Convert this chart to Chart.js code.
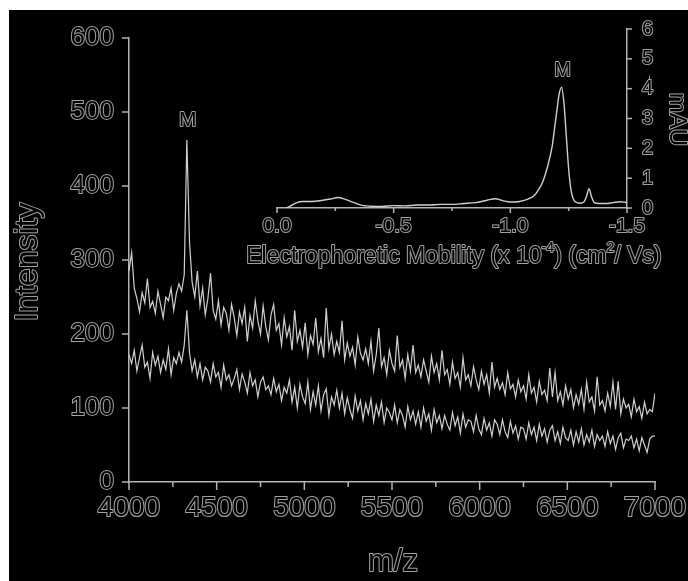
<!doctype html>
<html lang="en">
  <head>
    <meta charset="UTF-8" />
    <title>MALDI spectrum with CE inset</title>
    <script src="https://cdn.jsdelivr.net/npm/chart.js"></script>
    <style>
      body {
        margin: 0;
        background: #fff;
      }
      #wrap {
        position: absolute;
        left: 9px;
        top: 10px;
        width: 679px;
        height: 571px;
        background: #000;
      }
      #mainChart {
        position: absolute;
        left: 0;
        top: 0;
      }
      #insetChart {
        position: absolute;
        left: 231px;
        top: 0;
      }
    </style>
  </head>
  <body>
    <div id="wrap">
      <canvas id="mainChart" width="679" height="571"></canvas>
      <canvas id="insetChart" width="448" height="272"></canvas>
    </div>

    <script>
      // Mass spectrum, sampled every 15 m/z from 4000 to 7000
      const MZ_START = 4000;
      const MZ_STEP = 15;

      const upperTrace = [
        285, 310, 262, 248, 230, 256, 242, 275, 236, 244,
        228, 258, 240, 222, 250, 245, 262, 232, 255, 268,
        258, 280, 462, 325, 270, 250, 285, 238, 262, 226,
        248, 282, 232, 220, 245, 212, 236, 228, 205, 240,
        222, 198, 230, 214, 236, 190, 225, 208, 245, 218,
        200, 238, 210, 192, 226, 240, 205, 214, 185, 222,
        196, 210, 178, 232, 190, 205, 182, 215, 172, 198,
        186, 222, 176, 194, 168, 235, 180, 200, 172, 190,
        175, 218, 165, 188, 170, 182, 158, 196, 174, 165,
        180, 160, 190, 150, 172, 208, 156, 168, 145, 178,
        160, 150, 198, 155, 165, 140, 172, 150, 185, 148,
        158, 142, 165, 150, 135, 170, 148, 160, 138, 178,
        145, 152, 132, 162, 140, 148, 128, 168, 138, 145,
        130, 156, 138, 125, 150, 132, 145, 120, 162, 128,
        140, 125, 134, 118, 148, 126, 132, 115, 138, 122,
        130, 112, 145, 120, 128, 108, 136, 118, 124, 110,
        154, 115, 148, 110, 122, 104, 130, 112, 125, 100,
        118, 105, 125, 98, 135, 108, 115, 96, 142, 104,
        110, 96, 120, 102, 135, 98, 136, 92, 112, 100,
        105, 88, 112, 95, 102, 86, 108, 92, 98, 95,
        120,
      ];

      const lowerTrace = [
        172, 160, 178, 150, 168, 185, 155, 162, 140, 175,
        158, 170, 148, 165, 152, 180, 145, 168, 160, 175,
        162, 185, 232, 175, 150, 165, 142, 160, 138, 155,
        150, 135, 160, 142, 148, 128, 158, 138, 145, 130,
        140, 152, 125, 146, 135, 120, 148, 130, 138, 115,
        135, 142, 125, 130, 118, 140, 122, 132, 110, 128,
        120, 138, 108, 128, 100, 132, 115, 106, 135, 98,
        122, 104, 130, 96, 118, 126, 90, 115, 104, 124,
        100, 120, 92, 114, 98, 86, 116, 96, 110, 84,
        106, 92, 112, 82, 104, 90, 108, 80, 100, 94,
        84, 104, 80, 98, 90, 74, 102, 84, 96, 78,
        95, 74, 100, 82, 92, 70, 98, 80, 90, 72,
        90, 78, 70, 94, 76, 88, 66, 92, 74, 84,
        82, 68, 90, 72, 64, 86, 70, 80, 62, 84,
        78, 64, 84, 68, 60, 82, 66, 76, 58, 74,
        72, 58, 80, 64, 74, 56, 78, 62, 72, 54,
        70, 76, 56, 68, 52, 74, 60, 56, 70, 50,
        68, 54, 72, 50, 64, 54, 70, 48, 64, 56,
        62, 48, 68, 52, 62, 44, 60, 66, 46, 58,
        56, 62, 46, 58, 42, 60, 50, 40, 58, 62,
        62,
      ];

      const mzMinorTicks = [4250, 4750, 5250, 5750, 6250, 6750];
      const peakMz = 4330;
      const peakIntensity = 462;

      // Electropherogram inset
      const mobility = [
        -0.04, -0.06, -0.085, -0.11, -0.15, -0.19, -0.23, -0.26, -0.29, -0.33,
        -0.37, -0.4, -0.45, -0.5, -0.55, -0.6, -0.65, -0.7, -0.75, -0.8,
        -0.85, -0.9, -0.935, -0.97, -1.0, -1.04, -1.07, -1.1, -1.12, -1.14,
        -1.16, -1.18, -1.19, -1.2, -1.21, -1.22, -1.23, -1.24, -1.25, -1.26,
        -1.27, -1.28, -1.3, -1.315, -1.327, -1.337, -1.348, -1.36, -1.38,
        -1.41, -1.44, -1.47, -1.5,
      ];
      const absorbance = [
        0, 0.08, 0.18, 0.22, 0.22, 0.25, 0.3, 0.35, 0.3, 0.18,
        0.08, 0.06, 0.05, 0.08, 0.07, 0.1, 0.1, 0.12, 0.12, 0.15,
        0.18, 0.26, 0.31, 0.24, 0.2, 0.22, 0.28, 0.4, 0.6, 0.9,
        1.4, 2.1, 2.7, 3.3, 3.85, 4.05, 3.5, 2.4, 1.3, 0.6,
        0.3, 0.2, 0.16, 0.2, 0.4, 0.65, 0.38, 0.18, 0.15,
        0.15, 0.18, 0.21, 0.19,
      ];
      const mobilityMinorTicks = [-0.25, -0.75, -1.25];
      const peakMobility = -1.22;
      const peakAbsorbance = 4.05;

      const FONT = "'Liberation Sans', Arial, sans-serif";
      const TEXT_EDGE = "#a0a0a0";
      const AXIS = "#b4b4b4";
      const TRACE = "#d0d0d0";

      const mz = upperTrace.map((_, i) => MZ_START + i * MZ_STEP);

      // outlined text, like the reference figure
      function outlineText(ctx, text, x, y, size, align) {
        ctx.font = size + "px " + FONT;
        ctx.textAlign = align || "center";
        ctx.textBaseline = "middle";
        ctx.lineJoin = "round";
        ctx.lineWidth = 2;
        ctx.strokeStyle = TEXT_EDGE;
        ctx.strokeText(text, x, y);
        ctx.fillStyle = "#000";
        ctx.fillText(text, x, y);
      }

      // text with superscript pieces, centred on x
      function outlineRich(ctx, parts, x, y, size) {
        let total = 0;
        parts.forEach((p) => {
          ctx.font = (p.sup ? size * 0.62 : size) + "px " + FONT;
          total += ctx.measureText(p.t).width;
        });
        let cx = x - total / 2;
        parts.forEach((p) => {
          const s = p.sup ? size * 0.62 : size;
          const dy = p.sup ? -size * 0.38 : 0;
          outlineText(ctx, p.t, cx, y + dy, s, "left");
          ctx.font = s + "px " + FONT;
          cx += ctx.measureText(p.t).width;
        });
      }

      // tick marks + titles, kept out of the options resolver
      function decorations(marks, draw) {
        return {
          id: "decorations",
          afterDraw(chart) {
            const ctx = chart.ctx;
            ctx.save();
            ctx.strokeStyle = AXIS;
            ctx.lineWidth = 1.5;
            marks.forEach((m) => {
              const sc = chart.scales[m.axis];
              const values = m.values || sc.ticks.map((t) => t.value);
              values.forEach((v) => {
                const p = sc.getPixelForValue(v);
                ctx.beginPath();
                if (m.axis === "x") {
                  ctx.moveTo(p, sc.top);
                  ctx.lineTo(p, sc.top + m.len);
                } else if (sc.position === "left") {
                  ctx.moveTo(sc.right, p);
                  ctx.lineTo(sc.right - m.len, p);
                } else {
                  ctx.moveTo(sc.left, p);
                  ctx.lineTo(sc.left + m.len, p);
                }
                ctx.stroke();
              });
            });
            draw(chart, ctx);
            ctx.restore();
          },
        };
      }

      function fixSize(prop, size) {
        return (s) => {
          s[prop] = size;
          s.paddingLeft = 0;
          s.paddingRight = 0;
          s.paddingTop = 0;
          s.paddingBottom = 0;
        };
      }

      function tickStyle(size, extra) {
        return Object.assign(
          {
            color: "#000",
            textStrokeColor: TEXT_EDGE,
            textStrokeWidth: 2,
            maxRotation: 0,
            font: { family: FONT, size: size },
          },
          extra
        );
      }

      const axisBorder = { display: true, color: AXIS, width: 1.5 };
      const noGrid = { display: true, drawOnChartArea: false, drawTicks: false };

      // main spectrum
      new Chart(document.getElementById("mainChart"), {
        type: "line",
        data: {
          datasets: [
            {
              data: mz.map((x, i) => ({ x: x, y: lowerTrace[i] })),
              borderColor: TRACE,
              borderWidth: 1.2,
              pointRadius: 0,
              tension: 0,
            },
            {
              data: mz.map((x, i) => ({ x: x, y: upperTrace[i] })),
              borderColor: TRACE,
              borderWidth: 1.2,
              pointRadius: 0,
              tension: 0,
            },
          ],
        },
        options: {
          responsive: false,
          animation: false,
          layout: { padding: { left: 0, top: 28, right: 33, bottom: 0 } },
          plugins: {
            legend: { display: false },
            tooltip: { enabled: false },
          },
          scales: {
            x: {
              type: "linear",
              min: 4000,
              max: 7000,
              afterFit: fixSize("height", 99),
              border: axisBorder,
              grid: noGrid,
              ticks: tickStyle(28, {
                stepSize: 500,
                padding: 9,
                callback: (v) => String(v),
              }),
            },
            y: {
              min: 0,
              max: 600,
              afterFit: fixSize("width", 120),
              border: axisBorder,
              grid: noGrid,
              ticks: tickStyle(26, {
                stepSize: 100,
                padding: 15,
                callback: (v) => String(v),
              }),
            },
          },
        },
        plugins: [
          decorations(
            [
              { axis: "x", len: 8 },
              { axis: "x", len: 5, values: mzMinorTicks },
              { axis: "y", len: 7 },
            ],
            (chart, ctx) => {
              const a = chart.chartArea;
              const xs = chart.scales.x;
              const ys = chart.scales.y;
              outlineText(ctx, "m/z", (a.left + a.right) / 2 + 1, 552, 31);
              ctx.save();
              ctx.translate(19, (a.top + a.bottom) / 2 + 2);
              ctx.rotate(-Math.PI / 2);
              outlineText(ctx, "Intensity", 0, 0, 32);
              ctx.restore();
              outlineText(
                ctx,
                "M",
                xs.getPixelForValue(peakMz) + 1,
                ys.getPixelForValue(peakIntensity) - 20,
                21
              );
            }
          ),
        ],
      });

      // electropherogram inset
      new Chart(document.getElementById("insetChart"), {
        type: "line",
        data: {
          datasets: [
            {
              data: mobility.map((x, i) => ({ x: x, y: absorbance[i] })),
              borderColor: TRACE,
              borderWidth: 1.4,
              pointRadius: 0,
              cubicInterpolationMode: "monotone",
            },
          ],
        },
        options: {
          responsive: false,
          animation: false,
          layout: { padding: { left: 37, top: 19, right: 0, bottom: 0 } },
          plugins: {
            legend: { display: false },
            tooltip: { enabled: false },
          },
          scales: {
            x: {
              type: "linear",
              min: -1.5,
              max: 0,
              reverse: true,
              afterFit: fixSize("height", 74),
              border: axisBorder,
              grid: noGrid,
              ticks: tickStyle(21, {
                stepSize: 0.5,
                padding: 6,
                callback: (v) => (v === 0 ? "0.0" : Number(v).toFixed(1)),
              }),
            },
            y: {
              position: "right",
              min: 0,
              max: 6,
              afterFit: fixSize("width", 61),
              border: axisBorder,
              grid: noGrid,
              ticks: tickStyle(20, {
                stepSize: 1,
                padding: 15,
                callback: (v) => String(v),
              }),
            },
          },
        },
        plugins: [
          decorations(
            [
              { axis: "x", len: 5 },
              { axis: "x", len: 3, values: mobilityMinorTicks },
              { axis: "y", len: 5 },
            ],
            (chart, ctx) => {
              const a = chart.chartArea;
              const xs = chart.scales.x;
              const ys = chart.scales.y;
              outlineRich(
                ctx,
                [
                  { t: "Electrophoretic Mobility (x 10" },
                  { t: "-4", sup: true },
                  { t: ") (cm" },
                  { t: "2", sup: true },
                  { t: "/ Vs)" },
                ],
                (a.left + a.right) / 2 + 2,
                247,
                23
              );
              ctx.save();
              ctx.translate(437, (a.top + a.bottom) / 2 + 1);
              ctx.rotate(Math.PI / 2);
              outlineText(ctx, "mAU", 0, 0, 24);
              ctx.restore();
              outlineText(
                ctx,
                "M",
                xs.getPixelForValue(peakMobility) + 1,
                ys.getPixelForValue(peakAbsorbance) - 17,
                20
              );
            }
          ),
        ],
      });
    </script>
  </body>
</html>
